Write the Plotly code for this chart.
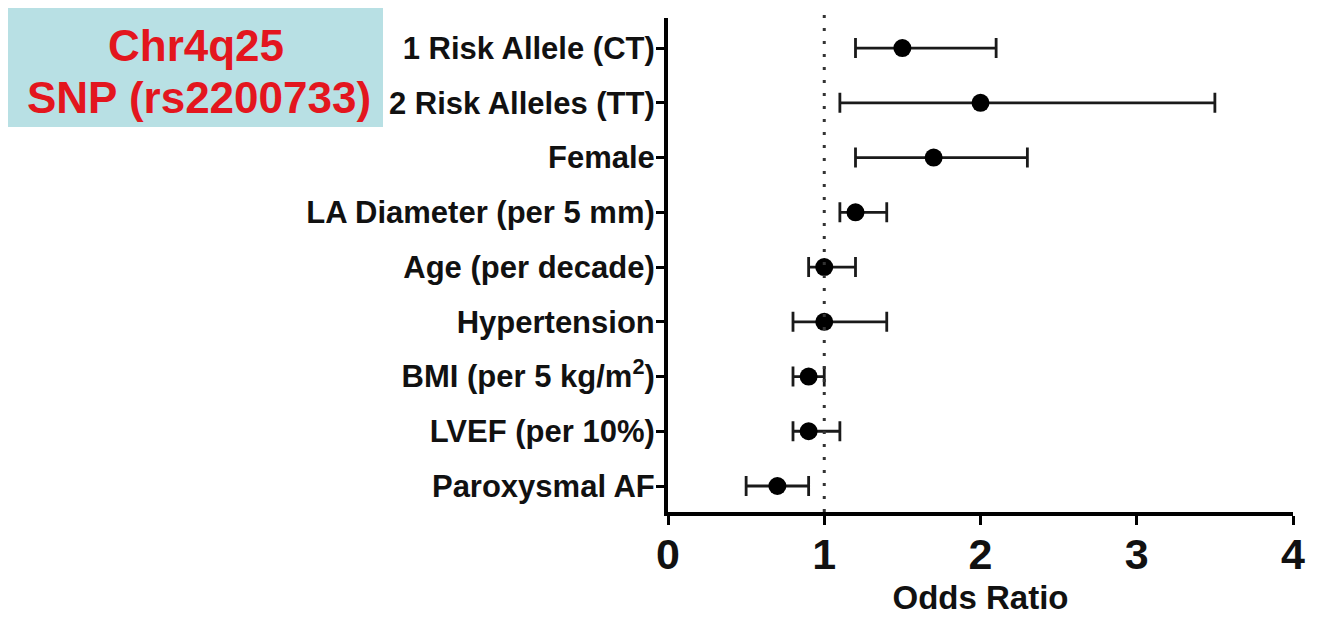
import plotly.graph_objects as go

categories = ["1 Risk Allele (CT)", "2 Risk Alleles (TT)", "Female",
              "LA Diameter (per 5 mm)", "Age (per decade)", "Hypertension",
              "BMI (per 5 kg/m<sup>2</sup>)", "LVEF (per 10%)", "Paroxysmal AF"]
odds_ratio = [1.5, 2.0, 1.7, 1.2, 1.0, 1.0, 0.9, 0.9, 0.7]
ci_low = [1.2, 1.1, 1.2, 1.1, 0.9, 0.8, 0.8, 0.8, 0.5]
ci_high = [2.1, 3.5, 2.3, 1.4, 1.2, 1.4, 1.0, 1.1, 0.9]
x_ticks = [0, 1, 2, 3, 4]
title_lines = ["Chr4q25", "SNP (rs2200733)"]

n = len(categories)
ypos = [n - i for i in range(n)]

OFF = 8  # page body margin
W, H = 1318 - OFF, 620 - OFF
# target plot area in window pixels: x 668..1293, y 18..512
L = 668 - OFF
T = 18 - OFF
pw = 1293 - 668
ph = 512 - 18
R = W - L - pw
B = H - T - ph


def px_x(p):
    return (p - OFF - L) / pw


def px_y(p):
    return (T + ph - (p - OFF)) / ph


fig = go.Figure()
fig.add_trace(go.Scatter(
    x=odds_ratio, y=ypos, mode="markers",
    marker=dict(color="black", size=18, symbol="circle"),
    error_x=dict(type="data", symmetric=False,
                 array=[h - o for h, o in zip(ci_high, odds_ratio)],
                 arrayminus=[o - l for l, o in zip(ci_low, odds_ratio)],
                 color="#1a1a1a", thickness=2.8, width=10),
    showlegend=False, hoverinfo="skip"))

FAM = "Liberation Sans, Arial, sans-serif"
label_font = dict(family=FAM, size=31, color="#111", weight="bold")

fig.update_layout(
    width=W, height=H,
    margin=dict(l=L, r=R, t=T, b=B, pad=0, autoexpand=False),
    plot_bgcolor="white", paper_bgcolor="white",
    xaxis=dict(range=[0, 4], tickvals=x_ticks, ticktext=[str(v) for v in x_ticks],
               automargin=False,
               showgrid=False, zeroline=False, showline=True, linecolor="black", linewidth=4,
               ticks="outside", ticklen=9, tickwidth=3, tickcolor="black",
               ticklabelstandoff=-8,
               tickfont=dict(family=FAM, size=43, color="#111", weight="bold"),
               title=dict(text="Odds Ratio", font=dict(family=FAM, size=33, color="#111", weight="bold"), standoff=10)),
    yaxis=dict(range=[0.525, 9.55], tickvals=ypos, ticktext=categories,
               automargin=False,
               showgrid=False, zeroline=False, showline=True, linecolor="black", linewidth=4,
               ticks="outside", ticklen=8, tickwidth=2.5, tickcolor="black",
               ticklabelstandoff=-5,
               tickfont=label_font),
    shapes=[
        dict(type="line", xref="x", yref="paper", x0=1, x1=1, y0=0, y1=px_y(10),
             line=dict(color="#333", width=3, dash="3px,10px")),
        dict(type="rect", xref="paper", yref="paper", x0=px_x(8), x1=px_x(383),
             y0=px_y(127), y1=px_y(5), fillcolor="#b8e0e4", line=dict(width=0), layer="below"),
    ],
    annotations=[
        dict(text=title_lines[0], xref="paper", yref="paper",
             x=px_x(196), y=px_y(46), xanchor="center", yanchor="middle", showarrow=False,
             font=dict(family=FAM, size=44, color="#e3161e", weight="bold")),
        dict(text=title_lines[1], xref="paper", yref="paper",
             x=px_x(199), y=px_y(97), xanchor="center", yanchor="middle", showarrow=False,
             font=dict(family=FAM, size=44, color="#e3161e", weight="bold")),
    ],
)

fig.write_html("out.html")
